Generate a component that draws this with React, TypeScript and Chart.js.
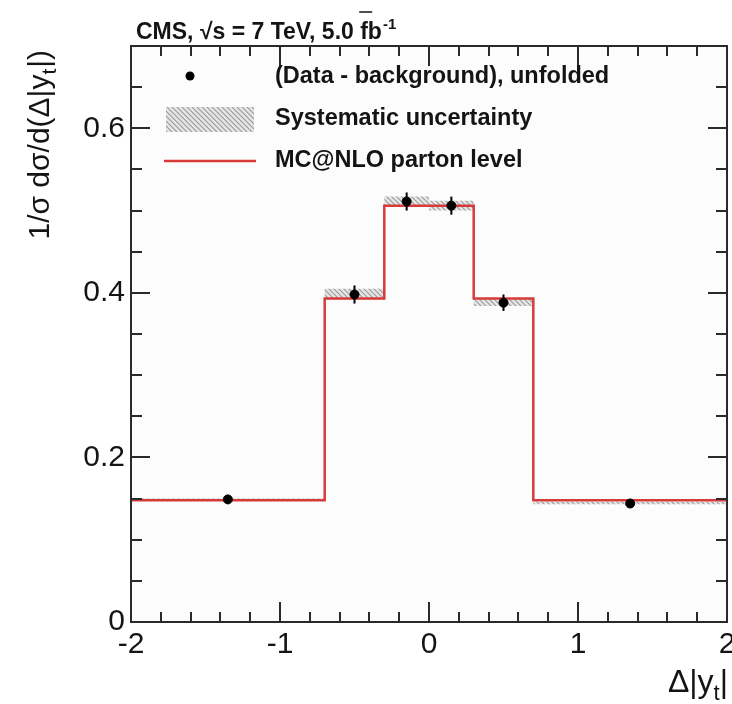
import React, { useEffect, useRef } from "react";
import { Chart, registerables } from "chart.js";

Chart.register(...registerables);

// ---- data ----
const binEdges = [-2, -0.7, -0.3, 0, 0.3, 0.7, 2];
const binCenters = [-1.35, -0.5, -0.15, 0.15, 0.5, 1.35];
const dataValues = [0.149, 0.398, 0.511, 0.506, 0.388, 0.144];
const statErrors = [0.005, 0.011, 0.011, 0.011, 0.01, 0.005];
const sysLow = [0.147, 0.392, 0.506, 0.5, 0.384, 0.143];
const sysHigh = [0.15, 0.405, 0.517, 0.512, 0.393, 0.146];
const mcValues = [0.148, 0.393, 0.506, 0.506, 0.393, 0.148];
const xTickValues = [-2, -1, 0, 1, 2];
const yTickValues = [0, 0.2, 0.4, 0.6];

const FONT = "'Liberation Sans', Arial, Helvetica, sans-serif";
const TEXT_COLOR = "#141414";
const RED = "#d83a3a";

function stepPoints(values: number[]) {
  const pts = values.map((v, i) => ({ x: binEdges[i], y: v }));
  pts.push({ x: binEdges[binEdges.length - 1], y: values[values.length - 1] });
  return pts;
}

function makePattern(): CanvasPattern | string {
  const c = document.createElement("canvas");
  c.width = 5;
  c.height = 5;
  const p = c.getContext("2d");
  if (!p) return "#c8c8c8";
  p.fillStyle = "#e6e6e6";
  p.fillRect(0, 0, 5, 5);
  p.strokeStyle = "#9a9a9a";
  p.lineWidth = 1.1;
  p.beginPath();
  p.moveTo(0, 0);
  p.lineTo(5, 5);
  p.moveTo(-2.5, 2.5);
  p.lineTo(2.5, 7.5);
  p.moveTo(2.5, -2.5);
  p.lineTo(7.5, 2.5);
  p.stroke();
  const pat = p.createPattern(c, "repeat");
  return pat || "#c8c8c8";
}

export default function App() {
  const ref = useRef<HTMLCanvasElement | null>(null);

  useEffect(() => {
    const canvas = ref.current;
    if (!canvas) return;
    const pattern = makePattern();

    const decorPlugin = {
      id: "decor",
      beforeDraw(chart: any) {
        const { ctx, chartArea: a } = chart;
        ctx.save();
        ctx.fillStyle = "#ffffff";
        ctx.fillRect(0, 0, chart.width, chart.height);
        ctx.fillStyle = "#fcfcfc";
        ctx.fillRect(a.left, a.top, a.right - a.left, a.bottom - a.top);
        ctx.restore();
      },
      afterDatasetsDraw(chart: any) {
        const { ctx, chartArea: a } = chart;
        const xs = chart.scales.x;
        const ys = chart.scales.y;
        ctx.save();
        // error bars
        ctx.strokeStyle = "#000";
        ctx.lineWidth = 2;
        for (let i = 0; i < dataValues.length; i++) {
          const px = xs.getPixelForValue(binCenters[i]);
          ctx.beginPath();
          ctx.moveTo(px, ys.getPixelForValue(dataValues[i] - statErrors[i]));
          ctx.lineTo(px, ys.getPixelForValue(dataValues[i] + statErrors[i]));
          ctx.stroke();
        }
        // frame
        ctx.strokeStyle = "#2a2a2a";
        ctx.lineWidth = 2;
        ctx.strokeRect(a.left, a.top, a.right - a.left, a.bottom - a.top);
        // ticks
        ctx.lineWidth = 2;
        ctx.beginPath();
        for (let k = 0; k <= 20; k++) {
          const v = -2 + k * 0.2;
          const major = k % 5 === 0;
          const len = major ? 20 : 10;
          const px = Math.round(xs.getPixelForValue(v));
          ctx.moveTo(px, a.bottom);
          ctx.lineTo(px, a.bottom - len);
          ctx.moveTo(px, a.top);
          ctx.lineTo(px, a.top + len);
        }
        for (let k = 0; k <= 13; k++) {
          const v = k * 0.05;
          const major = k % 4 === 0;
          const len = major ? 19 : 11;
          const py = Math.round(ys.getPixelForValue(v));
          ctx.moveTo(a.left, py);
          ctx.lineTo(a.left + len, py);
          ctx.moveTo(a.right, py);
          ctx.lineTo(a.right - len, py);
        }
        ctx.stroke();

        // ---- legend ----
        ctx.fillStyle = "#000";
        ctx.beginPath();
        ctx.arc(190, 76, 4.5, 0, Math.PI * 2);
        ctx.fill();
        ctx.fillStyle = pattern as any;
        ctx.fillRect(166, 107, 88, 25);
        ctx.strokeStyle = RED;
        ctx.lineWidth = 2.5;
        ctx.beginPath();
        ctx.moveTo(164, 161);
        ctx.lineTo(256, 161);
        ctx.stroke();
        ctx.fillStyle = TEXT_COLOR;
        ctx.font = `bold 23.5px ${FONT}`;
        ctx.textAlign = "left";
        ctx.textBaseline = "middle";
        ctx.fillText("(Data - background), unfolded", 275, 77);
        ctx.fillText("Systematic uncertainty", 275, 119);
        ctx.fillText("MC@NLO parton level", 275, 161);

        // ---- title ----
        ctx.textBaseline = "alphabetic";
        ctx.font = `bold 23px ${FONT}`;
        let tx = 136;
        const ty = 39;
        const part1 = "CMS, \u221As = 7 TeV, 5.0 ";
        ctx.fillText(part1, tx, ty);
        tx += ctx.measureText(part1).width;
        const fbW = ctx.measureText("fb").width;
        ctx.fillText("fb", tx, ty);
        ctx.strokeStyle = TEXT_COLOR;
        ctx.lineWidth = 1.5;
        ctx.beginPath();
        ctx.moveTo(tx - 1, 12);
        ctx.lineTo(tx + 12, 12);
        ctx.stroke();
        tx += fbW;
        ctx.font = `bold 15px ${FONT}`;
        ctx.fillText("-1", tx + 1, ty - 10);

        // ---- y title ----
        ctx.save();
        ctx.translate(49, 50);
        ctx.rotate(-Math.PI / 2);
        ctx.font = `30px ${FONT}`;
        const a1 = "1/\u03C3 d\u03C3/d(\u0394|y";
        const a2 = "t";
        const a3 = "|)";
        const w1 = ctx.measureText(a1).width;
        ctx.font = `21px ${FONT}`;
        const w2 = ctx.measureText(a2).width;
        ctx.font = `30px ${FONT}`;
        const w3 = ctx.measureText(a3).width;
        let ox = -(w1 + w2 + w3 + 1);
        ctx.fillText(a1, ox, 0);
        ox += w1;
        ctx.font = `21px ${FONT}`;
        ctx.fillText(a2, ox, 7);
        ox += w2 + 1;
        ctx.font = `30px ${FONT}`;
        ctx.fillText(a3, ox, 0);
        ctx.restore();

        // ---- x title ----
        ctx.font = `32px ${FONT}`;
        const b1 = "\u0394|y";
        const b2 = "t";
        const b3 = "|";
        const bw1 = ctx.measureText(b1).width;
        const bw3 = ctx.measureText(b3).width;
        ctx.font = `22px ${FONT}`;
        const bw2 = ctx.measureText(b2).width;
        let bx = 728 - (bw1 + bw2 + bw3);
        const by = 692;
        ctx.font = `32px ${FONT}`;
        ctx.fillText(b1, bx, by);
        bx += bw1;
        ctx.font = `22px ${FONT}`;
        ctx.fillText(b2, bx, by + 8);
        bx += bw2;
        ctx.font = `32px ${FONT}`;
        ctx.fillText(b3, bx, by);
        ctx.restore();
      },
    };

    const chart = new Chart(canvas, {
      type: "scatter",
      data: {
        datasets: [
          {
            label: "(Data - background), unfolded",
            data: binCenters.map((x, i) => ({ x, y: dataValues[i] })),
            pointRadius: 4.5,
            pointBackgroundColor: "#000",
            pointBorderColor: "#000",
            showLine: false,
            order: 0,
          },
          {
            label: "MC@NLO parton level",
            type: "line",
            data: stepPoints(mcValues),
            stepped: true,
            borderColor: RED,
            borderWidth: 2.5,
            pointRadius: 0,
            fill: false,
            order: 1,
          },
          {
            label: "Systematic uncertainty",
            type: "line",
            data: stepPoints(sysHigh),
            stepped: true,
            borderWidth: 0,
            borderColor: "rgba(0,0,0,0)",
            pointRadius: 0,
            backgroundColor: pattern as any,
            fill: "+1",
            order: 2,
          },
          {
            label: "sys-low",
            type: "line",
            data: stepPoints(sysLow),
            stepped: true,
            borderWidth: 0,
            borderColor: "rgba(0,0,0,0)",
            pointRadius: 0,
            fill: false,
            order: 3,
          },
        ],
      } as any,
      options: {
        responsive: false,
        animation: false,
        devicePixelRatio: 1,
        layout: {
          padding: { top: 46, right: 5, left: 0, bottom: 0 },
          autoPadding: false,
        } as any,
        plugins: {
          legend: { display: false },
          tooltip: { enabled: false },
        },
        scales: {
          x: {
            type: "linear",
            min: -2,
            max: 2,
            grid: { display: false, drawTicks: false },
            border: { display: false },
            afterBuildTicks: (s: any) => {
              s.ticks = xTickValues.map((v) => ({ value: v }));
            },
            afterFit: (s: any) => {
              s.height = 82;
              s.paddingLeft = 0;
              s.paddingRight = 0;
            },
            ticks: {
              font: { family: FONT, size: 30 },
              color: TEXT_COLOR,
              padding: 5,
              maxRotation: 0,
              autoSkip: false,
              callback: (v: any) => String(v),
            },
          },
          y: {
            type: "linear",
            min: 0,
            max: 0.7,
            grid: { display: false, drawTicks: false },
            border: { display: false },
            afterBuildTicks: (s: any) => {
              s.ticks = yTickValues.map((v) => ({ value: v }));
            },
            afterFit: (s: any) => {
              s.width = 131;
              s.paddingTop = 0;
              s.paddingBottom = 0;
            },
            ticks: {
              font: { family: FONT, size: 30 },
              color: TEXT_COLOR,
              padding: 6,
              autoSkip: false,
              callback: (v: any) => (Number(v) === 0 ? "0" : Number(v).toFixed(1)),
            },
          },
        } as any,
      },
      plugins: [decorPlugin],
    });

    return () => {
      chart.destroy();
    };
  }, []);

  return (
    <div style={{ position: "absolute", left: 0, top: 0, width: 732, height: 704 }}>
      <canvas ref={ref} width={732} height={704} style={{ display: "block" }} />
    </div>
  );
}
